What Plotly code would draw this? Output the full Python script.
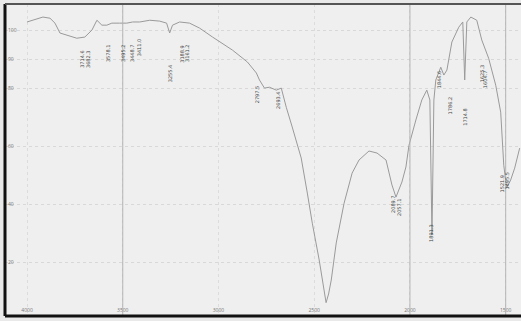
import plotly.graph_objects as go

# Spectrum (wavenumber cm-1 vs transmittance %)
wavenumber = [4000, 3917, 3880, 3854, 3828, 3792, 3740, 3698, 3661, 3635, 3609, 3583, 3557,
              3516, 3479, 3448, 3411, 3359, 3307, 3271, 3255, 3240, 3203, 3151, 3099, 3031,
              2927, 2849, 2802, 2786, 2760, 2734, 2698, 2672, 2646, 2615, 2568, 2536, 2510,
              2474, 2448, 2438, 2425, 2411, 2385, 2344, 2302, 2266, 2214, 2172, 2125, 2094,
              2073, 2042, 2021, 2005, 1969, 1938, 1912, 1896, 1885, 1875, 1865, 1839, 1823,
              1807, 1781, 1745, 1724, 1714, 1703, 1682, 1651, 1625, 1589, 1552, 1526, 1510,
              1495, 1474, 1453, 1427]
transmittance = [102.8, 104.5, 104.1, 102.4, 99.0, 98.3, 97.2, 97.6, 100.0, 103.4, 101.7, 101.7, 102.4,
                 102.4, 102.4, 102.8, 102.8, 103.4, 103.1, 102.4, 99.0, 101.7, 102.8, 102.4, 100.7, 97.6,
                 93.1, 89.0, 85.2, 82.8, 80.0, 80.3, 79.3, 80.0, 73.4, 66.6, 55.9, 43.8, 33.4,
                 20.7, 9.7, 6.0, 9.0, 13.8, 26.6, 40.3, 50.7, 55.2, 58.3, 57.6, 55.2, 46.6,
                 42.4, 47.6, 52.8, 60.3, 69.0, 75.9, 79.3, 75.9, 29.3, 75.9, 82.8, 87.2, 84.5,
                 86.2, 95.9, 101.0, 102.8, 82.8, 102.8, 104.5, 103.4, 96.6, 90.3, 81.0, 71.7, 53.4,
                 45.5, 48.3, 52.4, 59.3]

# Peak labels (wavenumber, transmittance position, text)
peak_x = [3714, 3682, 3578, 3495, 3448, 3411, 3255, 3188, 3161, 2797, 2693, 2089, 2057,
          1891, 1844, 1786, 1714, 1625, 1604, 1521, 1495]
peak_y = [90, 90, 92, 92, 92, 94, 85, 92, 92, 78, 76, 40, 39,
          30, 83, 74, 70, 85, 83, 47, 48]
peak_text = ["3714.6", "3682.3", "3578.1", "3495.2", "3448.7", "3411.0", "3255.4", "3188.9",
             "3161.2", "2797.5", "2693.4", "2089.7", "2057.1", "1891.3", "1844.6", "1786.2",
             "1714.8", "1625.3", "1604.7", "1521.9", "1495.5"]

x_ticks = [4000, 3500, 3000, 2500, 2000, 1500]
y_ticks = [20, 40, 60, 80, 90, 100]

fig = go.Figure()
fig.add_trace(go.Scatter(x=wavenumber, y=transmittance, mode="lines",
                         line=dict(color="#9a9a9a", width=1), hoverinfo="skip"))

for xv, yv, t in zip(peak_x, peak_y, peak_text):
    fig.add_annotation(x=xv, y=yv, text=t, textangle=-90, showarrow=False,
                       font=dict(size=5, color="#444444", family="DejaVu Sans"))

# darker vertical reference lines
for xv in [3500, 2000, 1500]:
    fig.add_shape(type="line", x0=xv, x1=xv, y0=0, y1=1, yref="paper",
                  line=dict(color="#b5b5b5", width=1))

# frame
fig.add_shape(type="line", xref="paper", yref="paper", x0=0, x1=0, y0=0, y1=1,
              line=dict(color="#111111", width=3))
fig.add_shape(type="line", xref="paper", yref="paper", x0=0, x1=1, y0=0, y1=0,
              line=dict(color="#111111", width=3))
fig.add_shape(type="line", xref="paper", yref="paper", x0=0, x1=1, y0=1, y1=1,
              line=dict(color="#555555", width=2))

fig.update_layout(
    width=521, height=321,
    margin=dict(l=5, r=0, t=4, b=5),
    paper_bgcolor="#e9e9e9",
    plot_bgcolor="#efefef",
    showlegend=False,
    xaxis=dict(range=[4115, 1420], tickvals=x_ticks, ticktext=[str(v) for v in x_ticks],
               ticklabelposition="inside", ticks="", showgrid=True,
               gridcolor="#dcdcdc", griddash="dot", gridwidth=1, zeroline=False,
               tickfont=dict(size=5, color="#777777")),
    yaxis=dict(range=[1.4, 109], tickvals=y_ticks, ticktext=[str(v) for v in y_ticks],
               ticklabelposition="inside", ticks="", showgrid=True,
               gridcolor="#d8d8d8", griddash="dot", gridwidth=1, zeroline=False,
               tickfont=dict(size=5, color="#777777")),
)

fig.write_html("out.html", config={"displayModeBar": False},
               post_script="document.body.style.margin='0';document.body.style.overflow='hidden';")
